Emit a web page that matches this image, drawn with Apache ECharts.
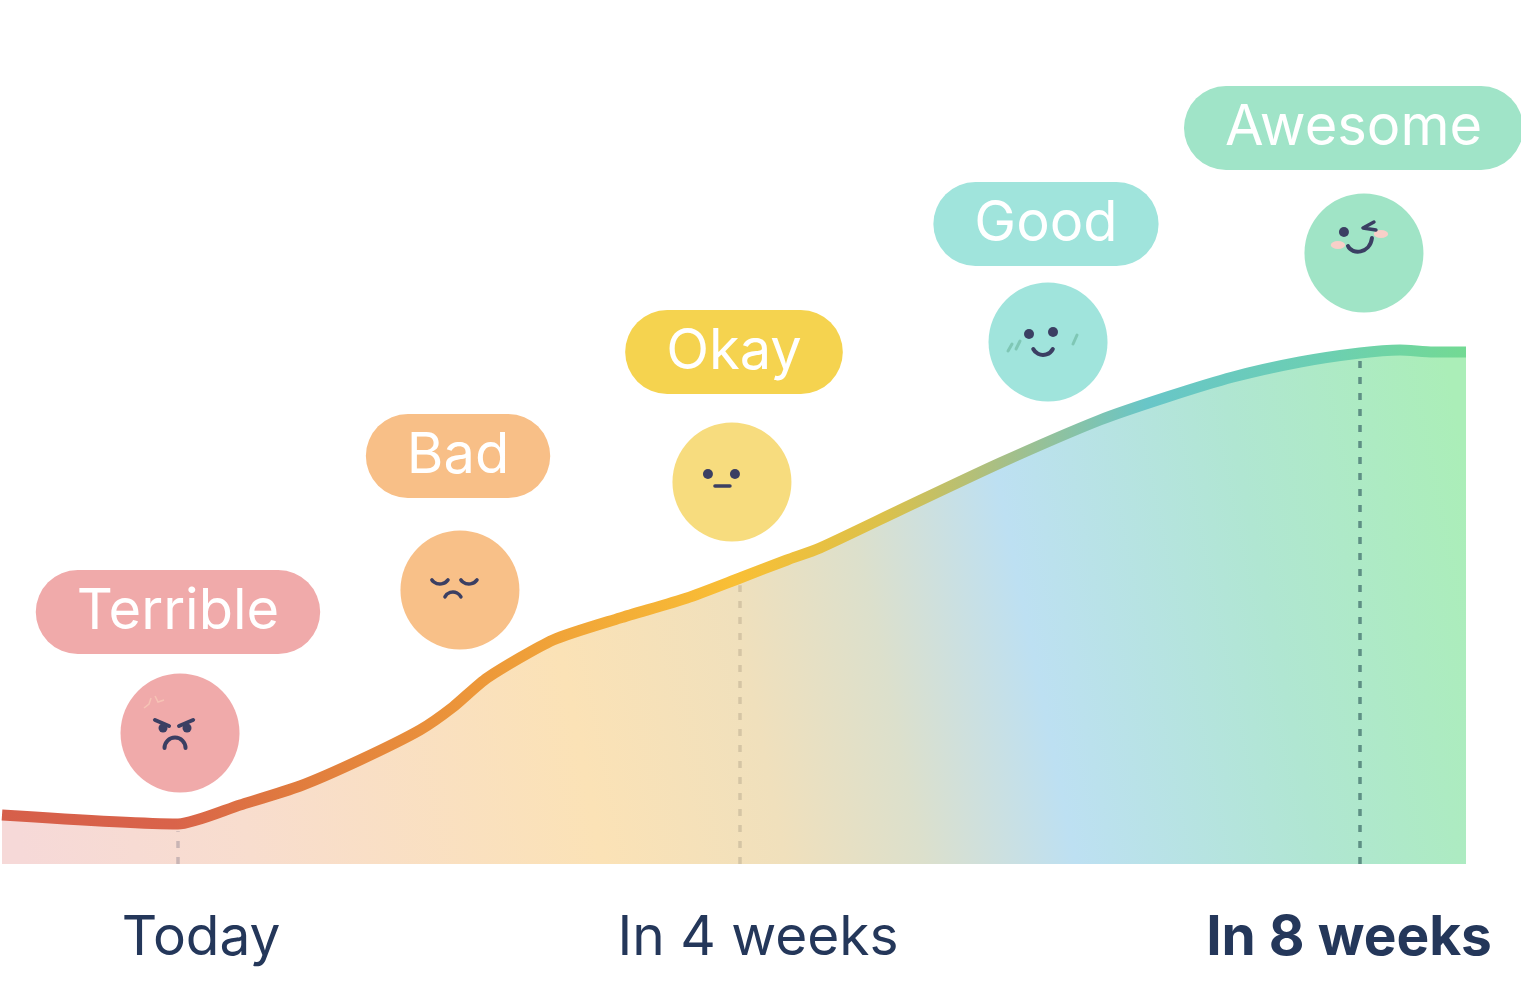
<!DOCTYPE html>
<html>
<head>
<meta charset="utf-8">
<script src="https://cdn.jsdelivr.net/npm/echarts@6/dist/echarts.min.js"></script>
<style>
html,body{margin:0;padding:0;background:#fff;}
#chart{width:1521px;height:1008px;}
</style>
</head>
<body>
<div id="chart"></div>
<script>
// ---- data (x: progress along timeline 0-100, y: mood level) ----
const xPos = [0, 12.02, 16.26, 20.36, 24.45, 28.55, 30.81, 33.13, 37.64, 42.21, 46.79, 50.41, 53.62, 55.87, 61.34, 68.17, 75.0, 79.58, 84.08, 88.66, 92.76, 95.49, 97.75, 100];
const progress = [6.125, 5, 7.375, 9.75, 13, 16.75, 19.625, 23.25, 28, 30.75, 33.25, 35.75, 38, 39.5, 44.25, 50.125, 55.5, 58.375, 60.875, 62.75, 63.875, 64.25, 64, 64];

const moods = ['Terrible', 'Bad', 'Okay', 'Good', 'Awesome'];
const moodLabelX = [12.02, 31.15, 50.0, 71.31, 92.32];
const moodLabelY = [31.5, 51, 64, 80, 92];
const moodFaceX = [12.16, 31.28, 49.86, 71.45, 93.03];
const moodFaceY = [16.375, 34.25, 47.75, 65.25, 76.375];

const timeLabels = ['Today', 'In 4 weeks', 'In 8 weeks'];
const timeLabelX = [13.6, 51.64, 92.01];
const timeLabelY = -9.25;
const markerIndex = [1, 11, 20];

// ---- styles ----
const pillColors = ['#F0AAAA', '#F8BF87', '#F5D34F', '#A0E4DC', '#A0E4C8'];
const faceColors = ['#F0AAAA', '#F8C088', '#F7DC7E', '#A0E4DC', '#A0E4C6'];
const markerColors = ['#C9B5B5', '#D5C5A5', '#5E8F84'];
const ink = '#3B3F63';
const FONT = 'Inter, "Noto Sans", sans-serif';

function ln(x1, y1, x2, y2, color, w) {
  return {type: 'line', shape: {x1, y1, x2, y2}, style: {stroke: color || ink, lineWidth: w || 4, lineCap: 'round'}};
}
function dot(cx, cy, r, color) {
  return {type: 'circle', shape: {cx, cy, r}, style: {fill: color || ink}};
}
function arc(cx, cy, r, s, e, w) {
  return {type: 'arc', shape: {cx, cy, r, startAngle: s, endAngle: e, clockwise: true}, style: {stroke: ink, lineWidth: w || 3.5, lineCap: 'round', fill: null}};
}
const PI = Math.PI;
function features(i) {
  if (i === 0) {
    return [
      {type: 'polyline', shape: {points: [[-36, -25], [-31, -29], [-29, -35]]}, style: {stroke: '#F6C3B5', lineWidth: 1.5, fill: null}},
      {type: 'polyline', shape: {points: [[-25, -37], [-22, -31], [-16, -33]]}, style: {stroke: '#F6C3B5', lineWidth: 1.5, fill: null}},
      ln(-25, -13, -11, -7), ln(-1, -7, 13, -13),
      dot(-17, -5, 4.5), dot(7, -5, 4.5),
      arc(-5, 15, 10.5, PI, 2 * PI, 4)
    ];
  }
  if (i === 1) {
    return [
      arc(-20, -16, 10, 0.2 * PI, 0.8 * PI, 3.5),
      arc(9, -16, 10, 0.2 * PI, 0.8 * PI, 3.5),
      arc(-7, 11, 9, 1.15 * PI, 1.85 * PI, 3.5)
    ];
  }
  if (i === 2) {
    return [dot(-24, -8, 5), dot(3, -8, 5), ln(-17, 4, -2, 4, ink, 3.5)];
  }
  if (i === 3) {
    const b = '#7FC7B5';
    return [
      ln(-40, 9, -36, 2, b, 3), ln(-32, 7, -28, -1, b, 3), ln(29, -7, 25, 2, b, 3),
      dot(-19, -8, 5), dot(5, -10, 5),
      arc(-5, 2, 11, 0.15 * PI, 0.85 * PI, 4)
    ];
  }
  return [
    {type: 'circle', shape: {cx: 0, cy: 0, r: 4}, x: -26, y: -8, scaleX: 1.8, style: {fill: '#F8CFC8'}},
    {type: 'circle', shape: {cx: 0, cy: 0, r: 4}, x: 17, y: -19, scaleX: 1.8, style: {fill: '#F8CFC8'}},
    dot(-20, -21, 5),
    {type: 'polyline', shape: {points: [[10, -31], [-1, -25], [12, -23]]}, style: {stroke: ink, lineWidth: 3.5, lineCap: 'round', lineJoin: 'round', fill: null}},
    {type: 'bezierCurve', shape: {x1: -16, y1: -7, cpx1: -12, cpy1: 2, cpx2: 6, cpy2: 1, x2: 8, y2: -15}, style: {stroke: ink, lineWidth: 4, lineCap: 'round', fill: null}}
  ];
}

const chart = echarts.init(document.getElementById('chart'), null, {renderer: 'canvas'});

const lineData = xPos.map((x, i) => [x, progress[i]]);

const option = {
  animation: false,
  grid: {left: 2, right: 55, top: 0, bottom: 0},
  xAxis: {type: 'value', min: 0, max: 100, show: false},
  yAxis: {type: 'value', min: -18, max: 108, show: false},
  series: [
    {
      type: 'line',
      data: lineData,
      smooth: 0.22,
      showSymbol: false,
      symbol: 'none',
      z: 2,
      lineStyle: {
        width: 11,
        cap: 'butt',
        color: new echarts.graphic.LinearGradient(0, 0, 1, 0, [
          {offset: 0, color: '#D65F4A'},
          {offset: 0.12, color: '#D9634A'},
          {offset: 0.2, color: '#E07B3E'},
          {offset: 0.32, color: '#EC963A'},
          {offset: 0.5, color: '#F9BF35'},
          {offset: 0.6, color: '#DCC14A'},
          {offset: 0.68, color: '#A8BF85'},
          {offset: 0.78, color: '#68C6C8'},
          {offset: 0.9, color: '#6CCFB2'},
          {offset: 1, color: '#73DA92'}
        ])
      },
      areaStyle: {
        opacity: 1,
        color: new echarts.graphic.LinearGradient(0, 0.79, 1, 0.21, [
          {offset: 0, color: '#F6D9D8'},
          {offset: 0.15, color: '#F8DDCE'},
          {offset: 0.38, color: '#FBE2B6'},
          {offset: 0.5, color: '#F0E0BC'},
          {offset: 0.59, color: '#DCE0CC'},
          {offset: 0.69, color: '#BDE0F2'},
          {offset: 0.85, color: '#B0E6D2'},
          {offset: 1, color: '#ABEEB8'}
        ])
      },
      markLine: {
        silent: true,
        symbol: ['none', 'none'],
        label: {show: false},
        z: 4,
        data: markerIndex.map((idx, k) => [
          {coord: [xPos[idx], 0], lineStyle: {color: markerColors[k], width: 3.5, type: [7, 9]}},
          {coord: [xPos[idx], progress[idx] - 0.9]}
        ])
      }
    },
    {
      type: 'custom',
      z: 5,
      data: moodFaceX.map((x, i) => [x, moodFaceY[i]]),
      renderItem: function (params, api) {
        const c = api.coord([api.value(0), api.value(1)]);
        const i = params.dataIndex;
        return {
          type: 'group', x: c[0], y: c[1],
          children: [{type: 'circle', shape: {cx: 0, cy: 0, r: 59.5}, style: {fill: faceColors[i]}}].concat(features(i))
        };
      }
    },
    {
      type: 'scatter',
      z: 6,
      symbolSize: 1,
      itemStyle: {color: 'rgba(0,0,0,0)', opacity: 1},
      data: moods.map((m, i) => ({
        value: [moodLabelX[i], moodLabelY[i], m],
        label: {backgroundColor: pillColors[i]}
      })),
      label: {
        show: true,
        position: 'inside',
        formatter: p => p.value[2],
        fontFamily: FONT,
        fontSize: 56,
        lineHeight: 56,
        color: '#ffffff',
        padding: [22, 41, 6, 41],
        borderRadius: 42
      }
    },
    {
      type: 'scatter',
      z: 6,
      symbolSize: 1,
      itemStyle: {color: 'rgba(0,0,0,0)', opacity: 1},
      data: timeLabels.map((t, i) => ({
        value: [timeLabelX[i], timeLabelY, t],
        label: {fontWeight: i === 2 ? 'bold' : 'normal'}
      })),
      label: {
        show: true,
        position: 'inside',
        formatter: p => p.value[2],
        fontFamily: FONT,
        fontSize: 55,
        color: '#24375A'
      }
    }
  ]
};
chart.setOption(option);
</script>
</body>
</html>
